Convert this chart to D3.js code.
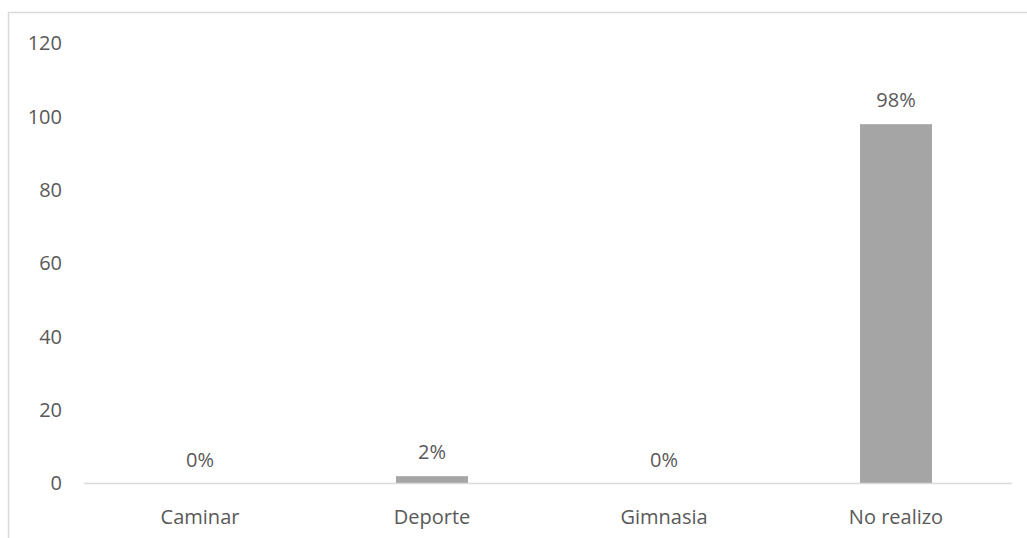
<!DOCTYPE html>
<html>
<head>
<meta charset="utf-8">
<script src="https://cdn.jsdelivr.net/npm/d3@7"></script>
<style>
  html, body { margin: 0; padding: 0; background: #fff; }
  svg { display: block; }
  text { font-family: "Open Sans", "Noto Sans", sans-serif; fill: #595959; }
</style>
</head>
<body>
<script>
// Actividad física realizada (porcentaje)
const categories = ["Caminar", "Deporte", "Gimnasia", "No realizo"];
const values = [0, 2, 0, 98];
const yTicks = [0, 20, 40, 60, 80, 100, 120];

const W = 1027, H = 538;
const margin = { top: 43.5, right: 15, bottom: 54.5, left: 84 };
const fontSize = "20px";

const svg = d3.select("body").append("svg")
  .attr("width", W).attr("height", H);

// chart area frame (top and left edges)
svg.append("path")
  .attr("d", `M8.5,${H} V12.5 H${W}`)
  .attr("fill", "none")
  .attr("stroke", "#d9d9d9")
  .attr("stroke-width", 1.5);

const x = d3.scaleBand()
  .domain(categories)
  .range([margin.left, W - margin.right])
  .paddingInner(0.69)
  .paddingOuter(0.345);

const y = d3.scaleLinear()
  .domain([0, 120])
  .range([H - margin.bottom, margin.top]);

// y axis labels (no axis line, no ticks)
const yAxis = d3.axisLeft(y).tickValues(yTicks).tickSize(0).tickPadding(22);
const gy = svg.append("g")
  .attr("transform", `translate(${margin.left},0)`)
  .call(yAxis);
gy.select(".domain").remove();
gy.selectAll("text")
  .style("font-size", fontSize)
  .attr("fill", "#595959");

// bars
svg.append("g").selectAll("rect")
  .data(values)
  .join("rect")
  .attr("x", (d, i) => x(categories[i]))
  .attr("y", d => y(d))
  .attr("width", x.bandwidth())
  .attr("height", d => y(0) - y(d))
  .attr("fill", "#a5a5a5");

// baseline
svg.append("line")
  .attr("x1", margin.left).attr("x2", W - margin.right)
  .attr("y1", y(0)).attr("y2", y(0))
  .attr("stroke", "#d9d9d9")
  .attr("stroke-width", 1.5);

// x axis category labels
const xAxis = d3.axisBottom(x).tickSize(0).tickPadding(26);
const gx = svg.append("g")
  .attr("transform", `translate(0,${y(0)})`)
  .call(xAxis);
gx.select(".domain").remove();
gx.selectAll("text")
  .style("font-size", fontSize)
  .attr("fill", "#595959");

// value labels
svg.append("g").selectAll("text")
  .data(values)
  .join("text")
  .attr("x", (d, i) => x(categories[i]) + x.bandwidth() / 2)
  .attr("y", d => y(d) - 17)
  .attr("text-anchor", "middle")
  .style("font-size", fontSize)
  .text(d => d + "%");
</script>
</body>
</html>
